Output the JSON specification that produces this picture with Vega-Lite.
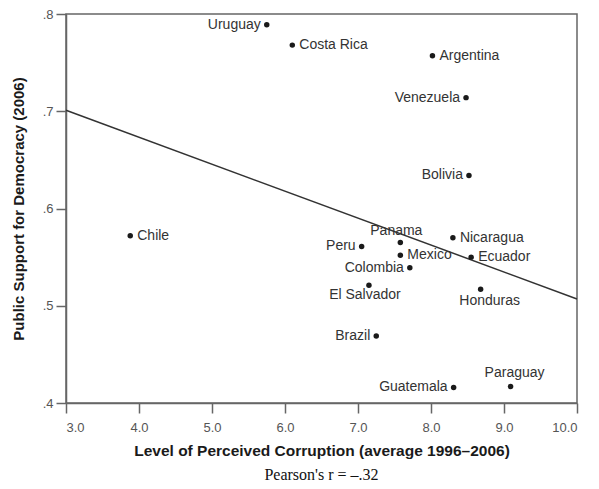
{
  "$schema": "https://vega.github.io/schema/vega-lite/v6.json",
  "width": 511,
  "height": 389,
  "autosize": {"type": "none"},
  "padding": {"left": 66, "top": 14, "right": 22, "bottom": 86},
  "background": "white",
  "title": {
    "text": "Pearson's r = \u2013.32",
    "orient": "bottom",
    "anchor": "middle",
    "font": "Liberation Serif",
    "fontSize": 16,
    "fontWeight": "normal",
    "color": "#111",
    "offset": 8
  },
  "config": {
    "view": {"stroke": "#666", "strokeWidth": 1.5},
    "axis": {
      "domainColor": "#666",
      "domainWidth": 1.5,
      "tickColor": "#666",
      "tickWidth": 1.5,
      "tickSize": 10,
      "grid": false,
      "labelColor": "#555",
      "labelFont": "Liberation Sans",
      "labelFontSize": 13,
      "titleFont": "Liberation Sans",
      "titleFontSize": 15,
      "titleFontWeight": "bold",
      "titleColor": "#1a1a1a"
    },
    "text": {"font": "Liberation Sans", "fontSize": 14, "color": "#333"}
  },
  "datasets": {
    "countries": [
      {"country": "Uruguay", "corruption": 5.75, "support": 0.789},
      {"country": "Costa Rica", "corruption": 6.10, "support": 0.768},
      {"country": "Argentina", "corruption": 8.02, "support": 0.757},
      {"country": "Venezuela", "corruption": 8.48, "support": 0.714},
      {"country": "Bolivia", "corruption": 8.52, "support": 0.634},
      {"country": "Chile", "corruption": 3.88, "support": 0.572},
      {"country": "Panama", "corruption": 7.58, "support": 0.565},
      {"country": "Peru", "corruption": 7.05, "support": 0.561},
      {"country": "Mexico", "corruption": 7.58, "support": 0.552},
      {"country": "Colombia", "corruption": 7.71, "support": 0.539},
      {"country": "Nicaragua", "corruption": 8.30, "support": 0.570},
      {"country": "Ecuador", "corruption": 8.55, "support": 0.550},
      {"country": "El Salvador", "corruption": 7.15, "support": 0.521},
      {"country": "Honduras", "corruption": 8.68, "support": 0.517},
      {"country": "Brazil", "corruption": 7.25, "support": 0.469},
      {"country": "Guatemala", "corruption": 8.31, "support": 0.416},
      {"country": "Paraguay", "corruption": 9.09, "support": 0.417}
    ],
    "fit": [
      {"corruption": 3.0, "support": 0.701},
      {"corruption": 10.0, "support": 0.507}
    ]
  },
  "encoding": {
    "x": {
      "field": "corruption",
      "type": "quantitative",
      "scale": {"domain": [3, 10], "nice": false, "zero": false},
      "axis": {
        "title": "Level of Perceived Corruption (average 1996\u20132006)",
        "values": [3, 4, 5, 6, 7, 8, 9, 10],
        "format": ".1f",
        "labelPadding": 8,
        "titlePadding": 9,
        "titleFontSize": 15.5
      }
    },
    "y": {
      "field": "support",
      "type": "quantitative",
      "scale": {"domain": [0.4, 0.8], "nice": false, "zero": false},
      "axis": {
        "title": "Public Support for Democracy (2006)",
        "values": [0.4, 0.5, 0.6, 0.7, 0.8],
        "labelExpr": "slice(format(datum.value, '.1f'), 1)",
        "labelPadding": 3,
        "titlePadding": 16
      }
    }
  },
  "layer": [
    {
      "data": {"name": "fit"},
      "mark": {"type": "line", "color": "#333", "strokeWidth": 1.5}
    },
    {
      "data": {"name": "countries"},
      "mark": {"type": "circle", "size": 30, "color": "#1a1a1a", "opacity": 1}
    },
    {
      "data": {"name": "countries"},
      "transform": [{"filter": {"field": "country", "oneOf": ["Uruguay", "Venezuela", "Bolivia", "Peru", "Brazil", "Guatemala", "Colombia"]}}],
      "mark": {"type": "text", "align": "right", "baseline": "middle", "dx": -6},
      "encoding": {"text": {"field": "country"}}
    },
    {
      "data": {"name": "countries"},
      "transform": [{"filter": {"field": "country", "oneOf": ["Costa Rica", "Argentina", "Chile", "Mexico", "Nicaragua", "Ecuador"]}}],
      "mark": {"type": "text", "align": "left", "baseline": "middle", "dx": 7},
      "encoding": {"text": {"field": "country"}}
    },
    {
      "data": {"name": "countries"},
      "transform": [{"filter": {"field": "country", "oneOf": ["Panama"]}}],
      "mark": {"type": "text", "align": "center", "baseline": "middle", "dy": -12, "dx": -4},
      "encoding": {"text": {"field": "country"}}
    },
    {
      "data": {"name": "countries"},
      "transform": [{"filter": {"field": "country", "oneOf": ["Paraguay"]}}],
      "mark": {"type": "text", "align": "center", "baseline": "middle", "dy": -13, "dx": 4},
      "encoding": {"text": {"field": "country"}}
    },
    {
      "data": {"name": "countries"},
      "transform": [{"filter": {"field": "country", "oneOf": ["El Salvador"]}}],
      "mark": {"type": "text", "align": "center", "baseline": "middle", "dy": 10, "dx": -4},
      "encoding": {"text": {"field": "country"}}
    },
    {
      "data": {"name": "countries"},
      "transform": [{"filter": {"field": "country", "oneOf": ["Honduras"]}}],
      "mark": {"type": "text", "align": "center", "baseline": "middle", "dy": 12, "dx": 9},
      "encoding": {"text": {"field": "country"}}
    }
  ]
}
